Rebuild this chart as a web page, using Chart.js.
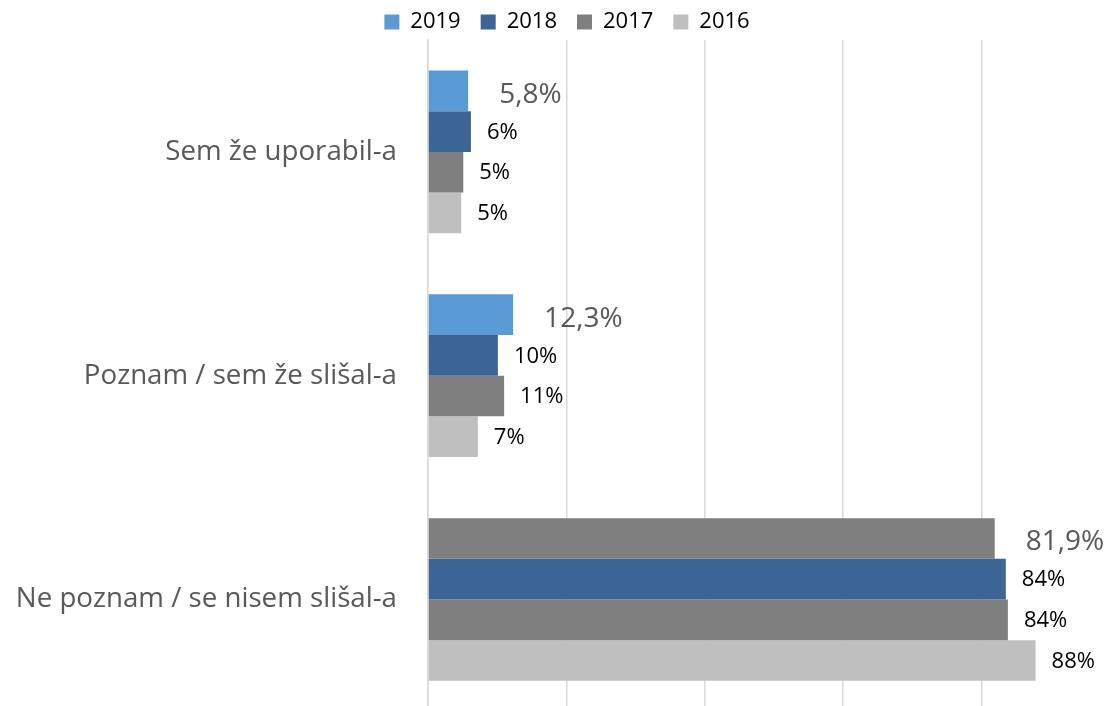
<!DOCTYPE html>
<html>
<head>
<meta charset="utf-8">
<script src="https://cdn.jsdelivr.net/npm/chart.js"></script>
<style>
  html, body { margin: 0; padding: 0; background: #fff; overflow: hidden; }
  #chart-wrapper { width: 1110px; height: 706px; overflow: hidden; }
</style>
</head>
<body>
<div id="chart-wrapper">
    <canvas id="my-chart" width="1120" height="728"></canvas>
</div>

<script>
// values (percent)
const categories = ["Sem že uporabil-a", "Poznam / sem že slišal-a", "Ne poznam / se nisem slišal-a"];
const years = ["2019", "2018", "2017", "2016"];
const values2019 = [5.8, 12.3, 81.9];
const values2018 = [6.2, 10.1, 83.5];
const values2017 = [5.1, 11.0, 83.8];
const values2016 = [4.8, 7.2, 87.8];
const xTicks = [0, 20, 40, 60, 80, 100];

const ctx = document.getElementById('my-chart');
const FONT = "'Open Sans', Lato, sans-serif";
Chart.defaults.font.family = FONT;

// last bar of 2019 is grey in the original
const colors2019 = ['#5b9bd5', '#5b9bd5', '#7f7f7f'];

// value labels drawn by hand, no datalabels plugin
const valueLabels = {
    id: 'valueLabels',
    afterLayout(chart) {
        // legend sits a little right of centre in the original
        chart.legend.left += 7;
        chart.legend.right += 7;
        chart.legend.top += 3;
        chart.legend.bottom += 3;
    },
    afterDatasetsDraw(chart) {
        const c = chart.ctx;
        c.save();
        c.textBaseline = 'middle';
        c.textAlign = 'left';
        chart.data.datasets.forEach(function(ds, i) {
            const meta = chart.getDatasetMeta(i);
            meta.data.forEach(function(bar, j) {
                const v = ds.data[j];
                let txt, off;
                if (i === 0) {
                    c.font = "28px " + FONT;
                    c.fillStyle = '#595959';
                    txt = v.toFixed(1).replace('.', ',') + '%';
                    off = 31;
                } else {
                    c.font = "22px " + FONT;
                    c.fillStyle = '#000';
                    txt = Math.round(v) + '%';
                    off = 16;
                }
                c.fillText(txt, bar.x + off, bar.y + (i === 0 ? 4 : 1));
            });
        });
        c.restore();
    }
};

const chart = new Chart(ctx, {
    type: 'bar',
    data: {
        labels: categories,
        datasets: [
            { label: years[0], data: values2019, backgroundColor: colors2019 },
            { label: years[1], data: values2018, backgroundColor: '#3c6494' },
            { label: years[2], data: values2017, backgroundColor: '#7f7f7f' },
            { label: years[3], data: values2016, backgroundColor: '#bfbfbf' }
        ]
    },
    options: {
        indexAxis: 'y',
        responsive: false,
        animation: false,
        devicePixelRatio: 1,
        categoryPercentage: 0.727,
        barPercentage: 1,
        layout: { padding: { top: -12, left: 0, right: 0, bottom: 0 } },
        plugins: {
            tooltip: { enabled: false },
            legend: {
                position: 'top',
                labels: {
                    boxWidth: 15,
                    boxHeight: 15,
                    padding: 20,
                    color: '#000',
                    font: { size: 22 },
                    generateLabels: function(chart) {
                        return chart.data.datasets.map(function(ds, i) {
                            const col = Array.isArray(ds.backgroundColor) ? ds.backgroundColor[0] : ds.backgroundColor;
                            return { text: ds.label, fillStyle: col, strokeStyle: col, lineWidth: 0, datasetIndex: i, fontColor: '#000' };
                        });
                    }
                }
            }
        },
        scales: {
            x: {
                min: 0,
                max: 100,
                afterBuildTicks: function(scale) {
                    scale.ticks = xTicks.map(function(v) { return { value: v }; });
                },
                ticks: { display: false },
                grid: { color: '#d9d9d9', lineWidth: 1.5, drawTicks: false },
                border: { display: false }
            },
            y: {
                afterFit: function(scale) { scale.width = 428; },
                ticks: { color: '#595959', font: { size: 27.7 }, padding: 0 },
                // invisible tick marks give the gap between labels and axis
                grid: { display: true, color: 'rgba(0,0,0,0)', drawTicks: true, tickLength: 31 },
                border: { color: '#d9d9d9', width: 1.5 }
            }
        }
    },
    plugins: [valueLabels]
});
</script>
</body>
</html>
